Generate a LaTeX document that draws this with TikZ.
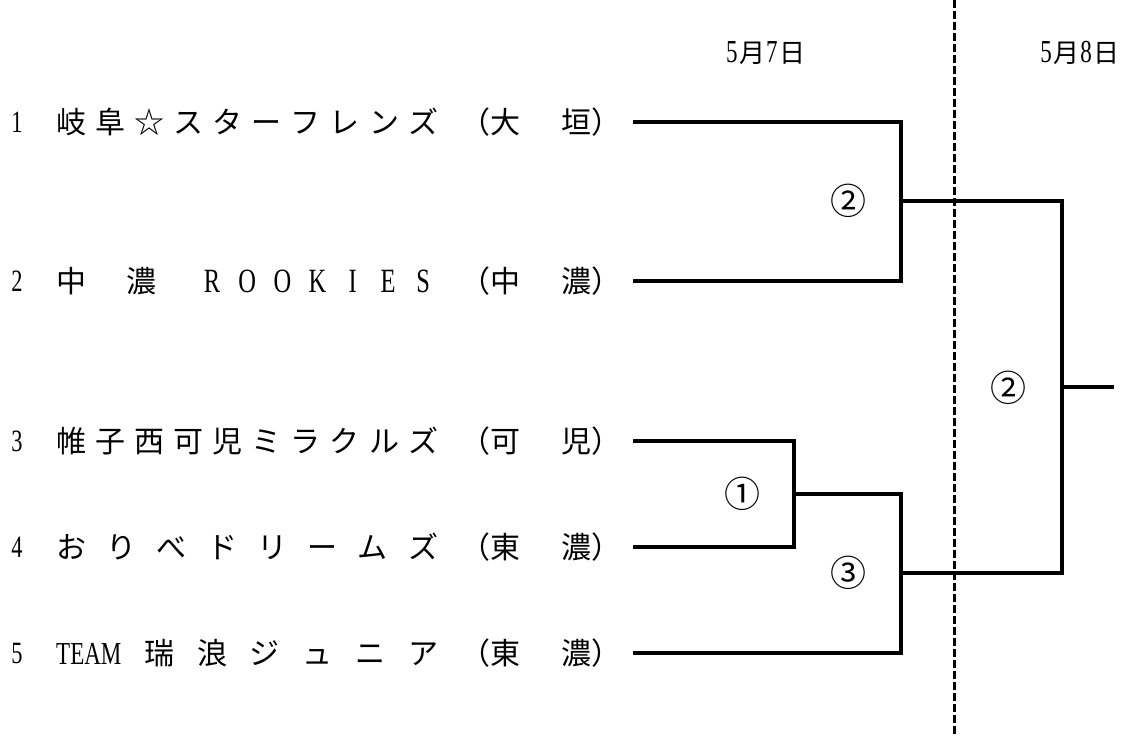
\documentclass[tikz,border=0pt]{standalone}
\usepackage{fontspec}
\newfontfamily\jpf{Noto Sans CJK JP}
\newfontfamily\latf[FakeStretch=0.72]{Liberation Serif}
\newcommand\zfw[1]{\makebox[30pt]{\latf\fontsize{34}{34}\selectfont #1}}
\newcommand\zhd[1]{\makebox[14pt]{\latf\fontsize{32}{32}\selectfont #1}}
\newcommand\zlat[1]{{\latf\fontsize{32}{32}\selectfont #1}}
\begin{document}
\begin{tikzpicture}[x=1pt,y=-1pt,
  team/.style={anchor=west, inner sep=0pt, font=\jpf\fontsize{30}{30}\selectfont},
  num/.style={inner sep=0pt, font=\latf\fontsize{31}{31}\selectfont},
  circ/.style={inner sep=0pt, font=\jpf\fontsize{36}{36}\selectfont},
  datelbl/.style={inner sep=0pt, font=\jpf\fontsize{26}{26}\selectfont},
  bline/.style={line width=3.2pt, line join=miter},
  sepline/.style={line width=3pt, dash pattern=on 8pt off 3pt}]
\useasboundingbox (0,0) rectangle (1130,736);

% dates
\node[datelbl] (d1) at (765,53) {\zhd{5}月\zhd{7}日};
\node[datelbl] (d2) at (1079,53) {\zhd{5}月\zhd{8}日};

% separator
\coordinate (s1) at (954,0);
\coordinate (s2) at (954,736);
\draw[sepline] (s1) -- (s2);

% team numbers
\node[num] (n1) at (17,122) {1};
\node[num] (n2) at (17,281) {2};
\node[num] (n3) at (17,441) {3};
\node[num] (n4) at (17,547) {4};
\node[num] (n5) at (17,653) {5};

% team names
\node[team] (name1) at (56,122) {\hbox to 382pt{岐\hfil 阜\hfil ☆\hfil ス\hfil タ\hfil ー\hfil フ\hfil レ\hfil ン\hfil ズ}};
\node[team] (name2) at (56,281) {\hbox to 382pt{中\hfil 　\hfil 濃\hfil 　\hfil \zfw{R}\hfil \zfw{O}\hfil \zfw{O}\hfil \zfw{K}\hfil \zfw{I}\hfil \zfw{E}\hfil \zfw{S}}};
\node[team] (name3) at (56,441) {\hbox to 382pt{帷\hfil 子\hfil 西\hfil 可\hfil 児\hfil ミ\hfil ラ\hfil ク\hfil ル\hfil ズ}};
\node[team] (name4) at (56,547) {\hbox to 382pt{お\hfil り\hfil べ\hfil ド\hfil リ\hfil ー\hfil ム\hfil ズ}};
\node[team] (name5) at (56,653) {\hbox to 382pt{\zlat{TEAM}\hfil 瑞\hfil 浪\hfil ジ\hfil ュ\hfil ニ\hfil ア}};

% regions
\node[team] (club1) at (460,122) {\hbox to 161pt{（大\hfil 垣）}};
\node[team] (club2) at (460,281) {\hbox to 161pt{（中\hfil 濃）}};
\node[team] (club3) at (460,441) {\hbox to 161pt{（可\hfil 児）}};
\node[team] (club4) at (460,547) {\hbox to 161pt{（東\hfil 濃）}};
\node[team] (club5) at (460,653) {\hbox to 161pt{（東\hfil 濃）}};

% bracket points
\coordinate (t1) at (633,122);
\coordinate (t2) at (633,281);
\coordinate (t3) at (633,441);
\coordinate (t4) at (633,547);
\coordinate (t5) at (633,653);
\coordinate (ja) at (794,494);
\coordinate (jb) at (901,201);
\coordinate (jc) at (901,573);
\coordinate (jf) at (1062,387);
\coordinate (out) at (1114,387);

\draw[bline] (t1) -| (jb) |- (t2);
\draw[bline] (t3) -| (ja) |- (t4);
\draw[bline] (ja) -| (jc) |- (t5);
\draw[bline] (jb) -| (jf) |- (jc);
\draw[bline] (jf) -- (out);

% match numbers
\node[circ] (m1) at (742,494) {①};
\node[circ] (m2) at (848,201) {②};
\node[circ] (m3) at (848,573) {③};
\node[circ] (m4) at (1008,388) {②};
\end{tikzpicture}
\end{document}
